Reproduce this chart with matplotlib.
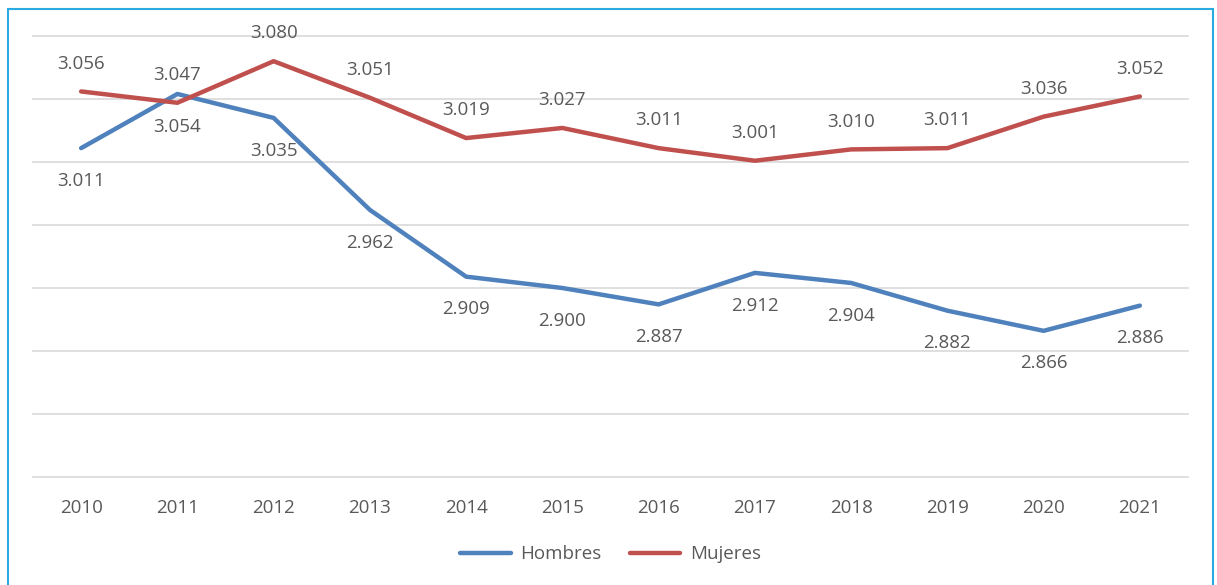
import matplotlib.pyplot as plt
from matplotlib.patches import Rectangle

years = ['2010', '2011', '2012', '2013', '2014', '2015', '2016', '2017', '2018', '2019', '2020', '2021']
hombres = [3.011, 3.054, 3.035, 2.962, 2.909, 2.900, 2.887, 2.912, 2.904, 2.882, 2.866, 2.886]
mujeres = [3.056, 3.047, 3.080, 3.051, 3.019, 3.027, 3.011, 3.001, 3.010, 3.011, 3.036, 3.052]

plt.rcParams['font.family'] = ['Open Sans', 'DejaVu Sans']
txt = '#595959'
fs = 13.5

fig = plt.figure(figsize=(12.17, 5.85), dpi=100)
ax = fig.add_axes([33 / 1217, 108 / 585, 1155 / 1217, 441 / 585])

x = list(range(len(years)))
ax.plot(x, hombres, color='#4F81BD', lw=3.2, solid_capstyle='round', label='Hombres', zorder=3)
ax.plot(x, mujeres, color='#C0504D', lw=3.2, solid_capstyle='round', label='Mujeres', zorder=3)

for i in x:
    ax.annotate(f'{hombres[i]:.3f}', (i, hombres[i]), xytext=(0, -23.5), textcoords='offset points',
                ha='center', va='center', fontsize=fs, color=txt)
    ax.annotate(f'{mujeres[i]:.3f}', (i, mujeres[i]), xytext=(0, 20), textcoords='offset points',
                ha='center', va='center', fontsize=fs, color=txt)

ax.set_xlim(-0.5, len(years) - 0.5)
ax.set_ylim(2.75, 3.1)
ax.set_yticks([2.75 + 0.05 * k for k in range(8)])
ax.set_yticklabels([])
ax.grid(axis='y', color='#D9D9D9', lw=1.2)
for gl in ax.get_ygridlines():
    gl.set_clip_on(False)
ax.set_axisbelow(True)
ax.set_xticks(x)
ax.set_xticklabels(years, fontsize=fs, color=txt)
ax.tick_params(axis='both', length=0, pad=16)
for s in ax.spines.values():
    s.set_visible(False)

ax.legend(loc='center', bbox_to_anchor=(0.5, -0.175), ncol=2, frameon=False, fontsize=fs,
          labelcolor=txt, handlelength=2.7, columnspacing=1.5, handletextpad=0.5)

fig.patches.append(Rectangle((8 / 1217, -0.05), 1205 / 1217, 1.05 - 9 / 585, transform=fig.transFigure,
                             fill=False, edgecolor='#29ABE2', lw=1.5))

fig.savefig('out.png', dpi=100)
